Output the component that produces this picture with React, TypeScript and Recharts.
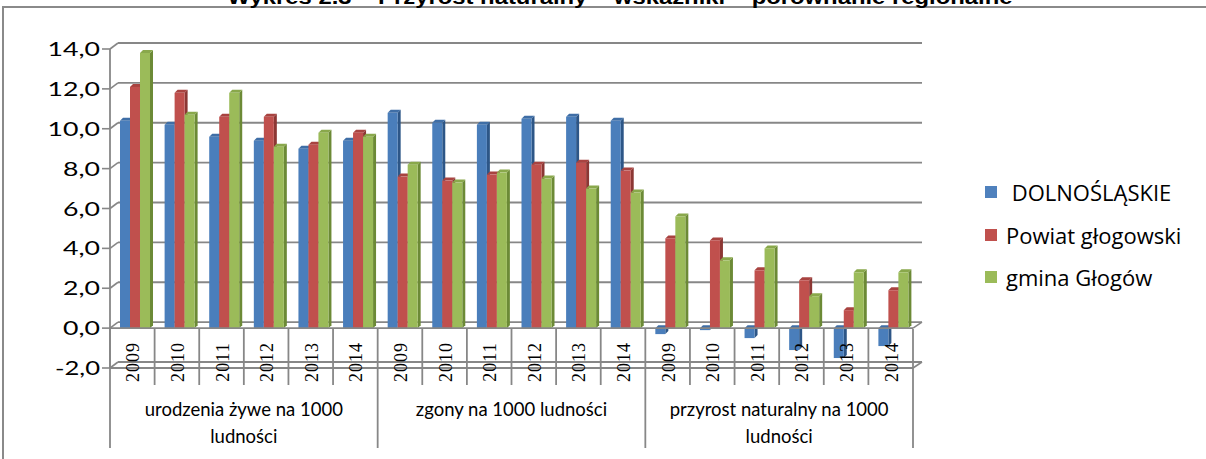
import React from 'react';
import { BarChart, Bar, XAxis, YAxis, CartesianGrid, Legend, ReferenceLine } from 'recharts';

// Wykres 2.3 – przyrost naturalny, wskaźniki na 1000 ludności
const years = ['2009', '2010', '2011', '2012', '2013', '2014'];
const groupLabels = [
  ['urodzenia żywe na 1000', 'ludności'],
  ['zgony na 1000 ludności'],
  ['przyrost naturalny na 1000', 'ludności'],
];
const seriesNames = [' DOLNOŚLĄSKIE', 'Powiat głogowski', 'gmina Głogów'];

// urodzenia (6), zgony (6), przyrost (6)
const dolnoslaskie = [10.4, 10.2, 9.6, 9.4, 9.0, 9.4, 10.8, 10.3, 10.2, 10.5, 10.6, 10.4, -0.3, -0.1, -0.5, -1.1, -1.5, -0.9];
const powiat = [12.1, 11.8, 10.6, 10.6, 9.2, 9.8, 7.6, 7.4, 7.7, 8.2, 8.3, 7.9, 4.5, 4.4, 2.9, 2.4, 0.9, 1.9];
const gmina = [13.8, 10.7, 11.8, 9.1, 9.8, 9.6, 8.2, 7.3, 7.8, 7.5, 7.0, 6.8, 5.6, 3.4, 4.0, 1.6, 2.8, 2.8];
const yTicks = [-2, 0, 2, 4, 6, 8, 10, 12, 14];

const data = dolnoslaskie.map((v, i) => ({
  key: i,
  year: years[i % years.length],
  dol: v,
  pow: powiat[i],
  gm: gmina[i],
}));

const W = 1206;
const H = 459;
const PLOT_LEFT = 110;
const PLOT_RIGHT = 913;
const BAND = (PLOT_RIGHT - PLOT_LEFT) / data.length;
const WALL_DX = 8;
const WALL_DY = 6;
const GRID = '#878787';
const SANS = 'Lato, "Open Sans", sans-serif';

const colors = [
  { front: '#4a7ebb', side: '#2d5687', top: '#3f6ea6', legend: '#4f81bd' },
  { front: '#c0504d', side: '#8c3734', top: '#a84340', legend: '#c0504d' },
  { front: '#9bbb59', side: '#6c8a36', top: '#89a84b', legend: '#9bbb59' },
];

const fmt = (v: number) => v.toFixed(1).replace('.', ',');

const textLen = (s: string) =>
  s.split('').reduce((n, c) => n + (c === ',' ? 6 : c === '-' ? 8 : 15.5), 0);

const bar3D = (c: { front: string; side: string; top: string }) => (props: any) => {
  const { x, y, width, height } = props;
  if (x == null || y == null) return <g />;
  const d = 3;
  const t = Math.min(y, y + height);
  const b = Math.max(y, y + height);
  const l = x + 3;
  const r = l + width;
  return (
    <g>
      <polygon points={`${r},${t} ${r + d},${t - d} ${r + d},${b - d} ${r},${b}`} fill={c.side} />
      <polygon points={`${l},${t} ${l + d},${t - d} ${r + d},${t - d} ${r},${t}`} fill={c.top} />
      <rect x={l} y={t} width={width} height={b - t} fill={c.front} />
    </g>
  );
};

const gridLine = (props: any) => {
  const { x1, x2, y1, key } = props;
  return (
    <g key={key ?? `g-${y1}`}>
      <line x1={x1} y1={y1} x2={x1 + WALL_DX} y2={y1 - WALL_DY} stroke={GRID} strokeWidth={1.6} />
      <line x1={x1 + WALL_DX} y1={y1 - WALL_DY} x2={x2 + WALL_DX + 1} y2={y1 - WALL_DY} stroke={GRID} strokeWidth={1.8} />
    </g>
  );
};

const floorLine = (props: any) => {
  const { x1, x2, y1 } = props;
  return (
    <g>
      <line x1={x1} y1={y1} x2={x2} y2={y1} stroke={GRID} strokeWidth={1.8} />
      <line x1={x2} y1={y1} x2={x2 + WALL_DX + 1} y2={y1 - WALL_DY} stroke={GRID} strokeWidth={1.6} />
    </g>
  );
};

const YTick = (props: any) => {
  const { x, y, payload } = props;
  const s = fmt(payload.value);
  return (
    <text
      x={x}
      y={y}
      dy={7}
      textAnchor="end"
      fontFamily={SANS}
      fontSize={19}
      fill="#000"
      textLength={textLen(s)}
      lengthAdjust="spacingAndGlyphs"
    >
      {s}
    </text>
  );
};

const XTick = (props: any) => {
  const { x, y, payload } = props;
  const i: number = payload.index ?? props.index;
  const left = x - BAND / 2;
  const right = x + BAND / 2;
  const groupStart = i % years.length === 0;
  const labels = groupLabels[Math.floor(i / years.length)];
  const gx = left + (BAND * years.length) / 2;
  return (
    <g>
      <line x1={left} y1={y - 39} x2={left} y2={groupStart ? y + 80 : y + 17} stroke={GRID} strokeWidth={1.8} />
      {i === data.length - 1 && (
        <line x1={right} y1={y - 39} x2={right} y2={y + 80} stroke={GRID} strokeWidth={1.8} />
      )}
      <text
        transform={`translate(${x + 1},${y - 6}) rotate(-90)`}
        textAnchor="middle"
        dominantBaseline="central"
        fontFamily='"Liberation Serif", serif'
        fontSize={18}
        letterSpacing={1}
        fill="#000"
      >
        {payload.value}
      </text>
      {groupStart &&
        labels.map((t, k) => (
          <text
            key={t}
            x={gx}
            y={y + 42 + k * 27}
            dy={6}
            textAnchor="middle"
            fontFamily={SANS}
            fontSize={18.5}
            fill="#000"
          >
            {t}
          </text>
        ))}
    </g>
  );
};

const LegendContent = (props: any) => {
  const items = [...(props.payload || [])].sort(
    (a: any, b: any) => seriesNames.indexOf(a.value) - seriesNames.indexOf(b.value)
  );
  return (
    <div>
      {items.map((p: any, i: number) => (
        <div key={p.value} style={{ height: 42.5, display: 'flex', alignItems: 'center' }}>
          <span
            style={{ width: 12, height: 12, background: colors[i].legend, display: 'inline-block', marginRight: 9 }}
          />
          <span
            style={{ fontFamily: '"Open Sans", Lato, sans-serif', fontSize: 22, color: '#000', whiteSpace: 'pre', lineHeight: '26px' }}
          >
            {p.value}
          </span>
        </div>
      ))}
    </div>
  );
};

export default function App() {
  return (
    <div style={{ position: 'absolute', left: 0, top: 0, width: W, height: H, background: '#fff', overflow: 'hidden' }}>
      <div
        style={{
          position: 'absolute',
          left: 2,
          top: 6,
          width: W + 10,
          height: H + 10,
          borderLeft: '2px solid #8a8a8a',
          borderTop: '2px solid #8a8a8a',
        }}
      />
      <svg style={{ position: 'absolute', left: 0, top: 0 }} width={W} height={8}>
        <text
          x={620}
          y={3.5}
          textAnchor="middle"
          fontFamily='"Liberation Sans", Arial, sans-serif'
          fontWeight="bold"
          fontSize={20}
          textLength={785}
          lengthAdjust="spacingAndGlyphs"
          fill="#000"
        >
          Wykres 2.3 – Przyrost naturalny – wskaźniki – porównanie regionalne
        </text>
      </svg>
      <div style={{ position: 'absolute', left: 0, top: 1 }}>
        <BarChart
          width={W}
          height={H}
          data={data}
          margin={{ top: 48, right: W - PLOT_RIGHT, bottom: 1, left: 10 }}
          barSize={10}
          barGap={0}
        >
          <CartesianGrid vertical={false} horizontal={gridLine} />
          <YAxis
            domain={[-2, 14]}
            ticks={yTicks}
            interval={0}
            width={100}
            tickSize={8}
            tickMargin={2}
            axisLine={{ stroke: GRID, strokeWidth: 1.8 }}
            tickLine={{ stroke: GRID, strokeWidth: 1.6 }}
            tick={<YTick />}
          />
          <XAxis
            dataKey="year"
            height={91}
            interval={0}
            tickSize={0}
            tickMargin={0}
            axisLine={false}
            tickLine={false}
            tick={<XTick />}
          />
          <ReferenceLine y={-2} shape={floorLine} />
          <ReferenceLine y={0} shape={floorLine} />
          <Legend
            layout="vertical"
            align="center"
            verticalAlign="middle"
            wrapperStyle={{ left: 985, top: 170, width: 221, height: 130 }}
            content={<LegendContent />}
          />
          <Bar dataKey="dol" name={seriesNames[0]} fill={colors[0].legend} shape={bar3D(colors[0])} isAnimationActive={false} />
          <Bar dataKey="pow" name={seriesNames[1]} fill={colors[1].legend} shape={bar3D(colors[1])} isAnimationActive={false} />
          <Bar dataKey="gm" name={seriesNames[2]} fill={colors[2].legend} shape={bar3D(colors[2])} isAnimationActive={false} />
        </BarChart>
      </div>
    </div>
  );
}
